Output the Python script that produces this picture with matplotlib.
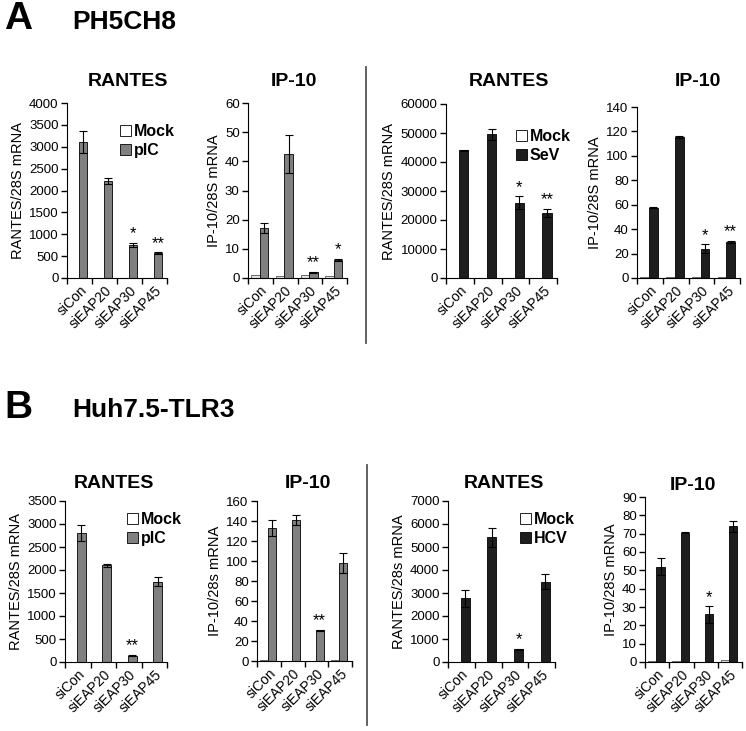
import matplotlib
matplotlib.use("Agg")
import matplotlib.pyplot as plt
from matplotlib.patches import Patch
from matplotlib.lines import Line2D

plt.rcParams['font.family'] = ['Liberation Sans', 'DejaVu Sans']

W, H = 746, 731

categories = ['siCon', 'siEAP20', 'siEAP30', 'siEAP45']

# Panel A (PH5CH8)
a1_mock = [8, 6, 5, 4]
a1_pic = [3100, 2220, 750, 570]
a1_err = [250, 70, 50, 20]
a1_stars = ['', '', '*', '**']

a2_mock = [1.0, 0.7, 1.0, 0.7]
a2_pic = [17, 42.5, 2.0, 6.3]
a2_err = [1.7, 6.5, 0.2, 0.3]
a2_stars = ['', '', '**', '*']

a3_mock = [60, 50, 40, 40]
a3_sev = [44000, 49500, 26000, 22500]
a3_err = [300, 2000, 2200, 1300]
a3_stars = ['', '', '*', '**']

a4_mock = [0.6, 0.5, 0.6, 0.5]
a4_sev = [57.5, 115.5, 24, 29.5]
a4_err = [0.5, 1.0, 3.5, 1.0]
a4_stars = ['', '', '*', '**']

# Panel B (Huh7.5-TLR3)
b1_mock = [6, 5, 4, 5]
b1_pic = [2800, 2100, 140, 1750]
b1_err = [170, 40, 15, 100]
b1_stars = ['', '', '**', '']

b2_mock = [0.6, 0.5, 0.2, 1.0]
b2_pic = [133, 141, 31, 98]
b2_err = [8, 5, 0.5, 10]
b2_stars = ['', '', '**', '']

b3_mock = [10, 8, 6, 8]
b3_hcv = [2770, 5420, 560, 3500]
b3_err = [380, 420, 20, 320]
b3_stars = ['', '', '*', '']

b4_mock = [0.8, 0.3, 0.2, 1.2]
b4_hcv = [52, 70.5, 26, 74]
b4_err = [4.5, 0.3, 4.5, 3.0]
b4_stars = ['', '', '*', '']

GRAY = '#808080'
DARK = '#1e1e1e'
MOCK = '#e6e6e6'

fig = plt.figure(figsize=(W / 100, H / 100), dpi=100)


def px_axes(left, right, top, bottom):
    return fig.add_axes([left / W, 1 - bottom / H, (right - left) / W, (bottom - top) / H])


def panel(box, mock, treat, err, stars, ymax, ystep, ylabel, color, title, title_xy,
          legend=None, legend_xy=None):
    ax = px_axes(*box)
    x = range(len(categories))
    xm = [i + 0.30 for i in x]
    xt = [i + 0.64 for i in x]
    ax.bar(xm, mock, width=0.34, color=MOCK, edgecolor='#555555', linewidth=0.6)
    ax.bar(xt, treat, width=0.34, color=color, edgecolor='black', linewidth=0.6,
           yerr=err, capsize=3, error_kw=dict(elinewidth=0.8, capthick=0.8, ecolor='black'))
    for xi, v, e, s in zip(xt, treat, err, stars):
        if s:
            ax.annotate(s, (xi, v + e), xytext=(0, 1), textcoords='offset points',
                        ha='center', va='bottom', fontsize=12)
    ax.set_xlim(0, len(categories))
    ax.set_ylim(0, ymax)
    ax.set_yticks([ystep * k for k in range(int(round(ymax / ystep)) + 1)])
    ax.set_xticks(range(len(categories) + 1))
    ax.set_xticklabels([])
    ax.set_xticks([i + 0.5 for i in x], minor=True)
    ax.set_xticklabels(categories, minor=True, rotation=45, ha='right',
                       rotation_mode='anchor', fontsize=10)
    ax.tick_params(axis='x', which='minor', length=0, pad=4)
    ax.tick_params(axis='x', which='major', length=4, width=1)
    ax.tick_params(axis='y', length=4, width=1, labelsize=9.5, pad=2)
    for sp in ['top', 'right']:
        ax.spines[sp].set_visible(False)
    ax.set_ylabel(ylabel, fontsize=10.5, labelpad=3)
    fig.text(title_xy[0] / W, 1 - title_xy[1] / H, title, ha='center', va='center',
             fontsize=14, fontweight='bold')
    if legend:
        handles = [Patch(facecolor='white', edgecolor='black', linewidth=0.6),
                   Patch(facecolor=color, edgecolor='black', linewidth=0.6)]
        fig.legend(handles, legend, loc='upper left',
                   bbox_to_anchor=(legend_xy[0] / W, 1 - legend_xy[1] / H),
                   frameon=False, borderpad=0, borderaxespad=0, handlelength=0.7,
                   handleheight=0.7, handletextpad=0.15, labelspacing=0.25,
                   prop=dict(weight='bold', size=11.5))
    return ax


panel((67, 167, 103, 278), a1_mock, a1_pic, a1_err, a1_stars, 4000, 500,
      'RANTES/28S mRNA', GRAY, 'RANTES', (128, 81), ['Mock', 'pIC'], (120, 124))
panel((248, 347, 103, 278), a2_mock, a2_pic, a2_err, a2_stars, 60, 10,
      'IP-10/28S mRNA', GRAY, 'IP-10', (294, 81))
panel((446, 557, 104, 278), a3_mock, a3_sev, a3_err, a3_stars, 60000, 10000,
      'RANTES/28S mRNA', DARK, 'RANTES', (509, 81), ['Mock', 'SeV'], (516, 129))
panel((637, 740, 107, 278), a4_mock, a4_sev, a4_err, a4_stars, 140, 20,
      'IP-10/28S mRNA', DARK, 'IP-10', (698, 82))

panel((65, 167, 501, 662), b1_mock, b1_pic, b1_err, b1_stars, 3500, 500,
      'RANTES/28S mRNA', GRAY, 'RANTES', (114, 483), ['Mock', 'pIC'], (127, 512))
panel((257, 352, 501, 661), b2_mock, b2_pic, b2_err, b2_stars, 160, 20,
      'IP-10/28s mRNA', GRAY, 'IP-10', (308, 483))
panel((448, 555, 501, 662), b3_mock, b3_hcv, b3_err, b3_stars, 7000, 1000,
      'RANTES/28s mRNA', DARK, 'RANTES', (504, 483), ['Mock', 'HCV'], (520, 512))
panel((645, 742, 497, 662), b4_mock, b4_hcv, b4_err, b4_stars, 90, 10,
      'IP-10/28S mRNA', DARK, 'IP-10', (693, 485))

# section letters and cell line names
fig.text(4 / W, 1 - 19 / H, 'A', fontsize=28, fontweight='bold', va='center', ha='left')
fig.text(72 / W, 1 - 22 / H, 'PH5CH8', fontsize=19, fontweight='bold', va='center', ha='left')
fig.text(4 / W, 1 - 408 / H, 'B', fontsize=28, fontweight='bold', va='center', ha='left')
fig.text(72 / W, 1 - 410 / H, 'Huh7.5-TLR3', fontsize=19, fontweight='bold', va='center', ha='left')

# vertical dividers
fig.add_artist(Line2D([366 / W, 366 / W], [1 - 67 / H, 1 - 343 / H], color='#555555', lw=1.3))
fig.add_artist(Line2D([367 / W, 367 / W], [1 - 465 / H, 1 - 725 / H], color='#555555', lw=1.3))

fig.savefig('out.png', dpi=100)
